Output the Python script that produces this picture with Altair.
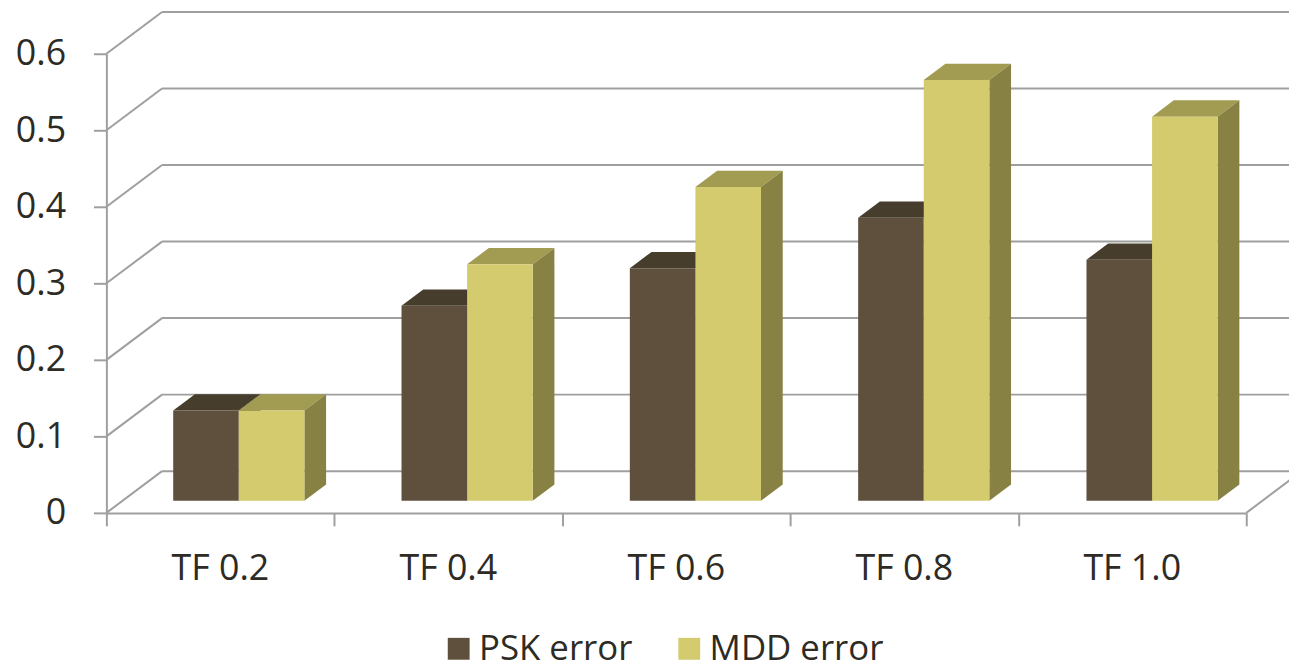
import altair as alt
import pandas as pd

# ---------------- data ----------------
categories = ["TF 0.2", "TF 0.4", "TF 0.6", "TF 0.8", "TF 1.0"]
series = ["PSK error", "MDD error"]
psk_values = [0.118, 0.255, 0.304, 0.370, 0.315]
mdd_values = [0.118, 0.309, 0.410, 0.550, 0.502]
y_ticks = [0, 0.1, 0.2, 0.3, 0.4, 0.5, 0.6]

front_colors = ["#5f503d", "#d4ca6e"]
top_colors = ["#473d2d", "#a29b52"]
side_colors = ["#3f3527", "#878244"]
grid_color = "#9f9f9f"
text_color = "#2d2b24"
FONT = "Open Sans"

# ---------------- oblique projection (in data units) ----------------
PX_U = 229.4           # pixels per category
PX_V = 770.0           # pixels per unit of value
DEPTH_U = 56 / PX_U    # back-wall offset along x
DEPTH_V = 42 / PX_V    # back-wall offset along y
F0, F1 = 0.29, 0.68    # bar front / back depth fractions
BAR_W = 66 / PX_U
N = len(categories)

values = {"PSK error": psk_values, "MDD error": mdd_values}

front_rows, top_rows, side_rows = [], [], []
for s_idx, s in enumerate(series):
    for i, v in enumerate(values[s]):
        c = i * 1.0015 + 0.5 + F0 * DEPTH_U + 0.01
        left = c + (s_idx - 1) * BAR_W
        right = left + BAR_W
        base = F0 * DEPTH_V
        top = base + v
        du = (F1 - F0) * DEPTH_U
        dv = (F1 - F0) * DEPTH_V
        bid = f"{s}-{i}"
        front_rows.append(dict(series=s, id=bid, x=left, x2=right, y=base, y2=top))
        top_rows.append(dict(series=s, id=bid, yy=top, xa=left, xb=right))
        top_rows.append(dict(series=s, id=bid, yy=top + dv, xa=left + du, xb=right + du))
        side_rows.append(dict(series=s, id=bid, xx=right, ya=base, yb=top))
        side_rows.append(dict(series=s, id=bid, xx=right + du, ya=base + dv, yb=top + dv))

front_df = pd.DataFrame(front_rows)
top_df = pd.DataFrame(top_rows)
side_df = pd.DataFrame(side_rows)

line_rows = []
for t in y_ticks:
    # back wall gridline
    line_rows.append(dict(x=DEPTH_U, x2=N + DEPTH_U + 0.3, y=t + DEPTH_V, y2=t + DEPTH_V))
    # side wall diagonal
    line_rows.append(dict(x=0, x2=DEPTH_U, y=t, y2=t + DEPTH_V))
# right floor edge
line_rows.append(dict(x=N, x2=N + DEPTH_U, y=0, y2=DEPTH_V))
lines_df = pd.DataFrame(line_rows)

label_df = pd.DataFrame({"cat": categories, "xc": [i + 0.5 for i in range(N)]})

# ---------------- scales & axes ----------------
xs = alt.Scale(domain=[0, N], range=[99, 1246], nice=False, zero=False)
ys = alt.Scale(domain=[0, 0.6], range=[506, 44], nice=False, zero=False)

x_axis = alt.Axis(values=list(range(N + 1)), offset=-149, tickSize=13, tickWidth=2,
                  tickColor=grid_color, domainColor=grid_color, domainWidth=2,
                  labels=False, grid=False, title=None)
y_axis = alt.Axis(values=y_ticks, offset=-99, tickSize=13, tickWidth=2,
                  tickColor=grid_color, domainColor=grid_color, domainWidth=2,
                  labelFont=FONT, labelFontSize=36, labelColor=text_color,
                  labelPadding=28, grid=False, title=None,
                  labelExpr="datum.value == 0 ? '0' : format(datum.value, '.1f')")


def X(f):
    return alt.X(f, scale=xs, axis=x_axis, stack=None)


def Y(f):
    return alt.Y(f, scale=ys, axis=y_axis, stack=None)


lines = alt.Chart(lines_df).mark_rule(color=grid_color, strokeWidth=2).encode(
    x=X("x:Q"), x2="x2:Q", y=Y("y:Q"), y2="y2:Q"
)

layers = [lines]
for s_idx, s in enumerate(series):
    tops = alt.Chart(top_df[top_df.series == s]).mark_area(
        orient="horizontal", color=top_colors[s_idx]
    ).encode(y=Y("yy:Q"), x=X("xa:Q"), x2="xb:Q", detail="id:N")
    sides = alt.Chart(side_df[side_df.series == s]).mark_area(
        orient="vertical", color=side_colors[s_idx]
    ).encode(x=X("xx:Q"), y=Y("ya:Q"), y2="yb:Q", detail="id:N")
    fronts = alt.Chart(front_df[front_df.series == s]).mark_rect().encode(
        x=X("x:Q"), x2="x2:Q", y=Y("y:Q"), y2="y2:Q",
        color=alt.Color(
            "series:N",
            scale=alt.Scale(domain=series, range=front_colors),
            legend=alt.Legend(
                orient="none", legendX=436, legendY=625, direction="horizontal",
                title=None, symbolType="square", symbolSize=484,
                symbolStrokeWidth=0, symbolOpacity=1,
                labelFont=FONT, labelFontSize=35, labelColor=text_color,
                labelOffset=3, columnPadding=39, padding=0, labelLimit=400,
            ),
        ),
    )
    layers += [tops, sides, fronts]

labels = alt.Chart(label_df).mark_text(
    font=FONT, fontSize=36, color=text_color, align="center", baseline="alphabetic"
).encode(x=X("xc:Q"), y=alt.value(574), text="cat:N")
layers.append(labels)

chart = alt.layer(*layers).properties(
    width=1289, height=655,
    autosize=alt.AutoSizeParams(type="none"),
    padding=0,
    background="white",
).configure_view(stroke=None)

chart.save("out.html", embed_options={"renderer": "svg", "actions": False})
